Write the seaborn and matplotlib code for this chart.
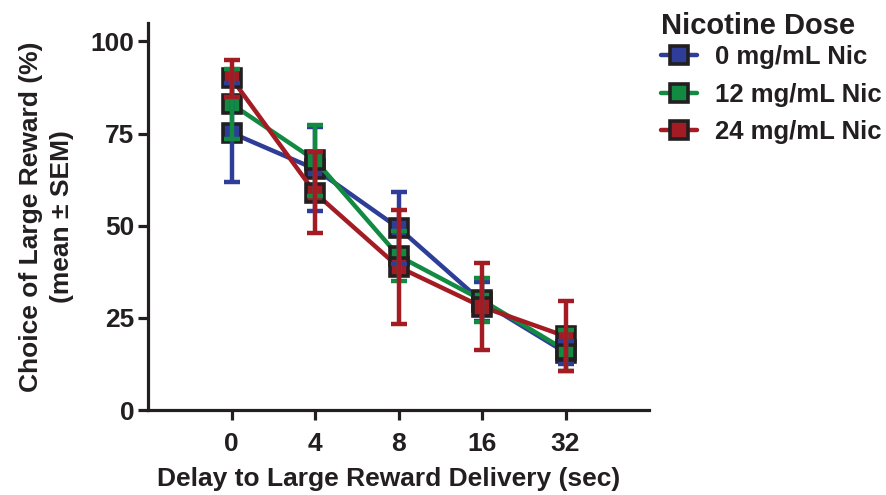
import numpy as np
import pandas as pd
import matplotlib
matplotlib.use("Agg")
import matplotlib.pyplot as plt
import seaborn as sns

# ---- data ----
delays = ["0", "4", "8", "16", "32"]
doses = ["0 mg/mL Nic", "12 mg/mL Nic", "24 mg/mL Nic"]
mean_0 = [75.2, 65.4, 49.4, 29.4, 15.6]
sem_0 = [13.4, 11.5, 9.8, 5.2, 3.0]
mean_12 = [83.0, 67.8, 41.8, 29.8, 16.2]
sem_12 = [9.4, 9.6, 6.8, 6.0, 5.6]
mean_24 = [90.0, 58.9, 38.8, 28.0, 20.0]
sem_24 = [5.0, 11.0, 15.4, 11.8, 9.5]

colors = ["#2e3d98", "#128a42", "#a31c24"]
ink = "#231f20"

means = [mean_0, mean_12, mean_24]
sems = [sem_0, sem_12, sem_24]

rows = []
for d, m, s in zip(doses, means, sems):
    for i, lab in enumerate(delays):
        rows.append({"pos": i, "delay": lab, "dose": d, "mean": m[i], "sem": s[i]})
df = pd.DataFrame(rows)

sns.set_theme(style="ticks")
plt.rcParams["font.family"] = ["Liberation Sans", "DejaVu Sans"]
plt.rcParams["font.weight"] = "bold"
plt.rcParams["text.color"] = ink
plt.rcParams["axes.labelcolor"] = ink
plt.rcParams["xtick.color"] = ink
plt.rcParams["ytick.color"] = ink

fig = plt.figure(figsize=(8.87, 4.95), dpi=100)
ax = fig.add_axes([0.1669, 0.1717, 0.5648, 0.7818])

sns.lineplot(data=df, x="pos", y="mean", hue="dose", hue_order=doses,
             palette=colors, marker="s", markersize=13,
             markeredgecolor=ink, markeredgewidth=2.6, linewidth=3.2,
             ax=ax, zorder=3, errorbar=None)

for d, c in zip(doses, colors):
    sub = df[df["dose"] == d]
    ax.errorbar(sub["pos"], sub["mean"], yerr=sub["sem"], fmt="none",
                ecolor=c, elinewidth=3.2, capsize=6, capthick=3.2, zorder=4)

ax.set_xlim(-1, 5)
ax.set_ylim(0, 105)
ax.set_xticks(range(len(delays)))
ax.set_xticklabels(delays)
ax.set_yticks([0, 25, 50, 75, 100])
for sp in ["top", "right"]:
    ax.spines[sp].set_visible(False)
for sp in ["left", "bottom"]:
    ax.spines[sp].set_linewidth(2.3)
    ax.spines[sp].set_color(ink)
ax.tick_params(axis="both", length=7, width=2.3, labelsize=19)
ax.tick_params(axis="y", pad=3)
ax.tick_params(axis="x", pad=9)
for t in ax.get_xticklabels() + ax.get_yticklabels():
    t.set_fontweight("bold")

ax.set_xlabel("Delay to Large Reward Delivery (sec)", fontsize=19,
              fontweight="bold", labelpad=8)
ax.xaxis.label.set_x(0.48)
ax.set_ylabel("Choice of Large Reward (%)\n(mean \u00b1 SEM)", fontsize=19,
              fontweight="bold", labelpad=12, linespacing=1.35)

handles, labels = ax.get_legend_handles_labels()
leg = ax.legend(handles=handles, labels=labels, title="Nicotine Dose",
                loc="upper left", bbox_to_anchor=(0.7365, 0.992),
                bbox_transform=fig.transFigure, frameon=False,
                fontsize=18.5, title_fontsize=21, handlelength=1.4,
                labelspacing=0.52, handletextpad=0.72, borderaxespad=0.1,
                borderpad=0.2)
leg.get_title().set_fontweight("bold")
leg._legend_box.align = "left"
leg._legend_box.sep = 4
for t in leg.get_texts():
    t.set_fontweight("bold")

fig.savefig("out.png", dpi=100)
